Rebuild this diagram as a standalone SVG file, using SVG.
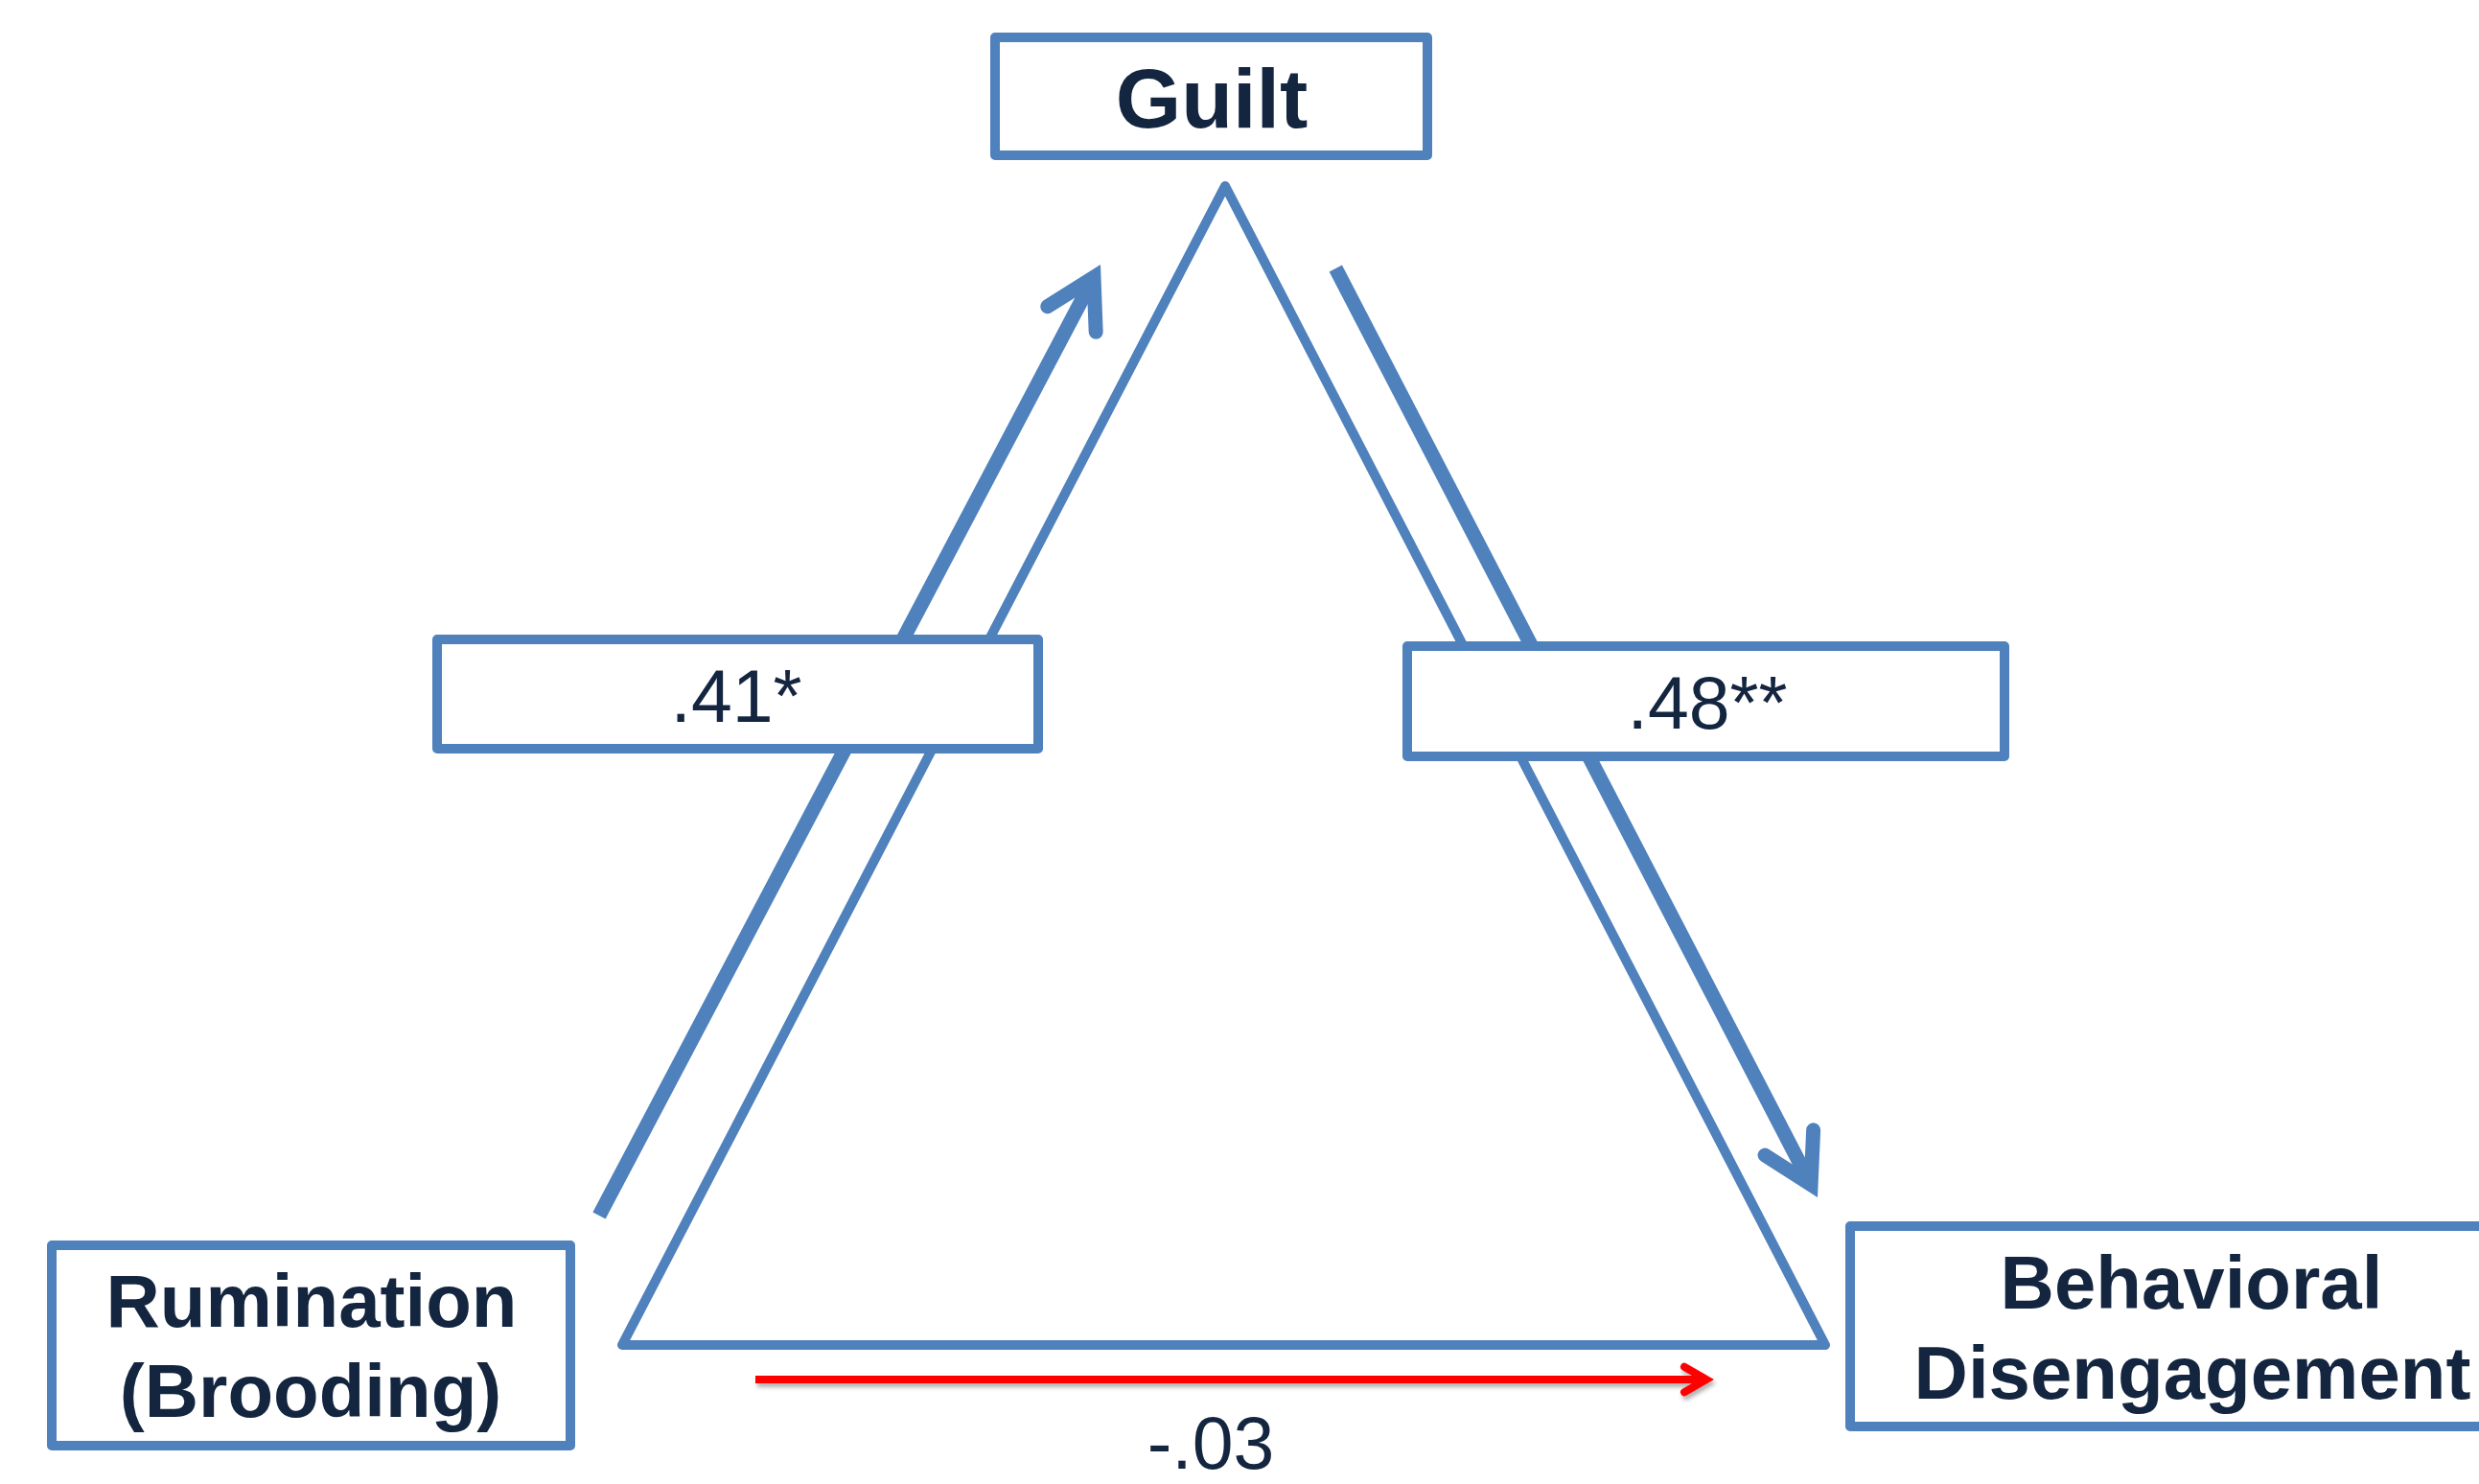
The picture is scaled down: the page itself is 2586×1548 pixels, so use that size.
<svg xmlns="http://www.w3.org/2000/svg" width="2586" height="1548" viewBox="0 0 2586 1548">
  <style>
    .box { fill: #FFFFFF; stroke: #4F81BD; stroke-width: 10; stroke-linejoin: round; }
    .tri { fill: none; stroke: #4F81BD; stroke-width: 10; stroke-linejoin: round; }
    .path { fill: none; stroke: #4F81BD; stroke-width: 15; stroke-linecap: butt; }
    .direct { fill: none; stroke: #FF0000; stroke-width: 8; stroke-linecap: butt; }
    .name { font-family: "Liberation Sans", Arial, sans-serif; font-weight: bold; fill: #13253F; text-anchor: middle; }
    .coef { font-family: "Liberation Sans", Arial, sans-serif; font-size: 77px; fill: #13253F; text-anchor: middle; }
  </style>
  <defs>
    <marker id="headBlue" markerUnits="userSpaceOnUse" orient="auto" refX="0" refY="0" markerWidth="120" markerHeight="120" viewBox="-60 -60 120 120" overflow="visible">
      <path d="M -49.4,-28.5 L 0,0 L -49.4,28.5" fill="none" stroke="#4F81BD" stroke-width="15" stroke-linecap="round" stroke-linejoin="miter"/>
    </marker>
    <marker id="headRed" markerUnits="userSpaceOnUse" orient="auto" refX="0" refY="0" markerWidth="60" markerHeight="60" viewBox="-30 -30 60 60" overflow="visible">
      <path d="M -23,-13.3 L 0,0 L -23,13.3" fill="none" stroke="#FF0000" stroke-width="8" stroke-linecap="round" stroke-linejoin="miter"/>
    </marker>
    <filter id="shadow" filterUnits="userSpaceOnUse" x="760" y="1400" width="1060" height="80">
      <feDropShadow dx="2" dy="4" stdDeviation="2" flood-color="#000000" flood-opacity="0.3"/>
    </filter>
  </defs>

  <g id="triangle">
    <polygon class="tri" points="1278,194 1904,1403 649,1403"/>
  </g>

  <g id="connectors">
    <line id="rumination-to-guilt" class="path" x1="625" y1="1268" x2="1141" y2="289.3" marker-end="url(#headBlue)"/>
    <line id="guilt-to-disengagement" class="path" x1="1393.3" y1="280" x2="1889.1" y2="1235.7" marker-end="url(#headBlue)"/>
    <g filter="url(#shadow)">
      <line id="rumination-to-disengagement" class="direct" x1="788" y1="1439" x2="1780" y2="1439" marker-end="url(#headRed)"/>
    </g>
  </g>

  <g id="label-a">
    <rect class="box" x="456" y="667" width="627" height="114"/>
    <text class="coef" x="768" y="753">.41*</text>
  </g>

  <g id="label-b">
    <rect class="box" x="1468" y="674" width="623" height="115"/>
    <text class="coef" x="1781" y="760">.48**</text>
  </g>

  <g id="label-c">
    <text class="coef" x="1263" y="1532">-.03</text>
  </g>

  <g id="node-guilt">
    <rect class="box" x="1038" y="39" width="451" height="123"/>
    <text class="name" x="1264" y="133" font-size="88">Guilt</text>
  </g>

  <g id="node-rumination">
    <rect class="box" x="54" y="1299" width="541" height="209"/>
    <text class="name" x="325" y="1384" font-size="78">Rumination</text>
    <text class="name" x="324" y="1478" font-size="78">(Brooding)</text>
  </g>

  <g id="node-disengagement">
    <rect class="box" x="1930" y="1279" width="720" height="209"/>
    <text class="name" x="2286" y="1365" font-size="78">Behavioral</text>
    <text class="name" x="2287" y="1459" font-size="78">Disengagement</text>
  </g>
</svg>
